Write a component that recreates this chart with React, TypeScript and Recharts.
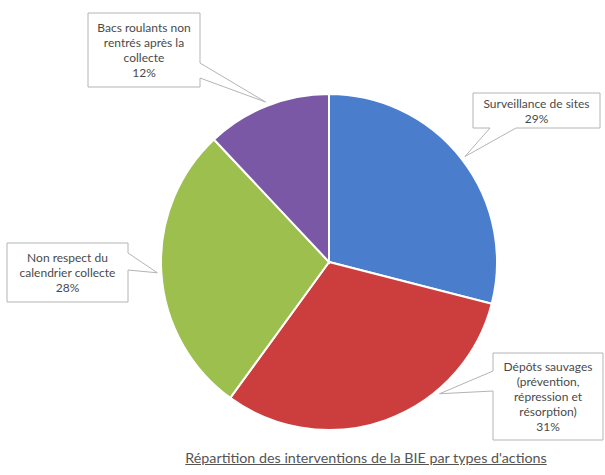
import { Cell, Pie, PieChart } from "recharts";

const categories = [
  "Surveillance de sites",
  "Dépôts sauvages\n(prévention,\nrépression et\nrésorption)",
  "Non respect du\ncalendrier collecte",
  "Bacs roulants non\nrentrés après la\ncollecte",
];
const shares = [29, 31, 28, 12];
const colors = ["#4a7dcc", "#cc3e3d", "#9cbf4e", "#7a58a6"];

const title = "Répartition des interventions de la BIE par types d'actions";

// callout boxes: position of the box, side carrying the pointer, pointer base
type Callout = { x: number; y: number; w: number; h: number; side: "left" | "right" | "bottom"; b1: number; b2: number; tipAngle?: number };
const callouts: Callout[] = [
  { x: 473, y: 93, w: 127, h: 35, side: "bottom", b1: 490, b2: 516 },
  { x: 493, y: 353, w: 110, h: 87, side: "left", b1: 371, b2: 391, tipAngle: -50 },
  { x: 7, y: 243, w: 121, h: 59, side: "right", b1: 253, b2: 270 },
  { x: 88, y: 13, w: 112, h: 74, side: "right", b1: 63, b2: 78 },
];

const data = categories.map((name, i) => ({ name, value: shares[i] }));
const RAD = Math.PI / 180;
const FONT = "Lato, 'Open Sans', sans-serif";

function calloutPath(c: Callout, tx: number, ty: number) {
  const r = c.x + c.w;
  const b = c.y + c.h;
  if (c.side === "right") {
    return `M${c.x},${c.y} H${r} V${c.b1} L${tx},${ty} L${r},${c.b2} V${b} H${c.x} Z`;
  }
  if (c.side === "left") {
    return `M${c.x},${c.y} H${r} V${b} H${c.x} V${c.b2} L${tx},${ty} L${c.x},${c.b1} Z`;
  }
  return `M${c.x},${c.y} H${r} V${b} H${c.b2} L${tx},${ty} L${c.b1},${b} H${c.x} Z`;
}

function renderLabel(props: any) {
  const { cx, cy, midAngle, outerRadius, index, name, value } = props;
  const c = callouts[index];
  if (!c) return null;
  const ang = c.tipAngle ?? midAngle;
  const tx = cx + (outerRadius + 4) * Math.cos(-ang * RAD);
  const ty = cy + (outerRadius + 4) * Math.sin(-ang * RAD);
  const lines = [...String(name).split("\n"), `${value}%`];
  const lh = 15;
  const mid = c.y + c.h / 2;
  const first = mid - ((lines.length - 1) * lh) / 2;
  return (
    <g key={`lbl-${index}`}>
      <path d={calloutPath(c, tx, ty)} fill="#ffffff" stroke="#b4b4b4" strokeWidth={1} />
      {lines.map((t, i) => (
        <text
          key={i}
          x={c.x + c.w / 2}
          y={first + i * lh}
          textAnchor="middle"
          dominantBaseline="central"
          fontFamily={FONT}
          fontSize={12}
          fill="#4a4a4a"
        >
          {t}
        </text>
      ))}
    </g>
  );
}

export default function App() {
  return (
    <div style={{ position: "absolute", left: 0, top: 0, width: 605, height: 475, background: "#fff" }}>
      <PieChart width={605} height={475} margin={{ top: 0, right: 0, bottom: 0, left: 0 }}>
        <Pie
          data={data}
          dataKey="value"
          nameKey="name"
          cx={329}
          cy={262}
          outerRadius={168}
          startAngle={90}
          endAngle={-270}
          stroke="#ffffff"
          strokeWidth={2}
          labelLine={false}
          label={renderLabel}
          isAnimationActive={false}
        >
          {data.map((d, i) => (
            <Cell key={d.name} fill={colors[i]} />
          ))}
        </Pie>
      </PieChart>
      <div
        style={{
          position: "absolute",
          left: 0,
          width: 732,
          top: 449,
          textAlign: "center",
          fontFamily: FONT,
          fontSize: 14.3,
          color: "#555",
          textDecoration: "underline",
          whiteSpace: "nowrap",
        }}
      >
        {title}
      </div>
    </div>
  );
}
